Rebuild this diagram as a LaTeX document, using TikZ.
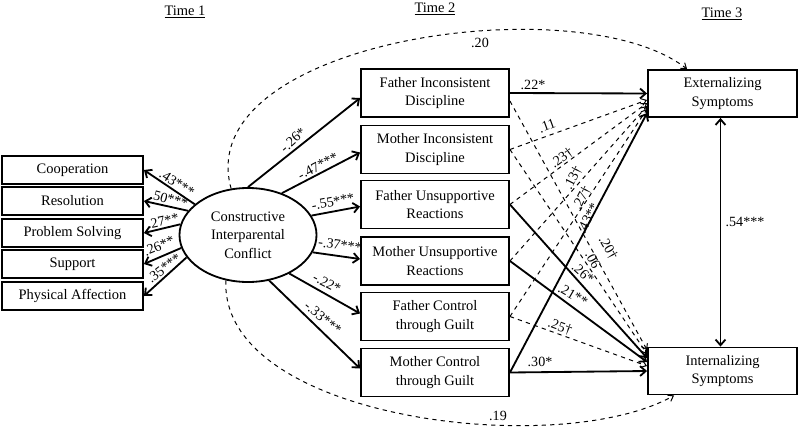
\documentclass[tikz,border=0pt]{standalone}
\usepackage{fontspec}
\setmainfont{Liberation Serif}
\usetikzlibrary{calc, shapes.geometric, arrows.meta}

\tikzset{
    box/.style={draw, line width=1.3pt, inner sep=0pt, align=center, font=\fontsize{10.3}{13}\selectfont},
    indbox/.style={box, minimum width=3.525cm, minimum height=0.7cm},
    midbox/.style={box, minimum width=3.7cm, minimum height=1.2cm},
    outbox/.style={box, minimum width=3.725cm, minimum height=1.175cm},
    solidarr/.style={line width=1.3pt, -{Straight Barb[length=4pt,width=7pt]}},
    dasharr/.style={line width=0.7pt, dashed, -{Straight Barb[length=3.5pt,width=5pt]}},
    lab/.style={font=\fontsize{10}{12}\selectfont, inner sep=1pt},
    timelab/.style={font=\fontsize{10.3}{12}\selectfont}
}

\begin{document}
\begin{tikzpicture}[x=0.025cm, y=-0.025cm]
        \useasboundingbox (0, 0) rectangle (800, 434);

        \node[timelab] (t1) at (185, 12) {\underline{Time 1}};
        \node[timelab] (t2) at (435, 9) {\underline{Time 2}};
        \node[timelab] (t3) at (722, 14) {\underline{Time 3}};

        % Time 1
        \node[indbox] (coop) at (72.5, 170) {Cooperation};
        \node[indbox] (res) at (72.5, 201) {Resolution};
        \node[indbox] (ps) at (72.5, 233) {Problem Solving};
        \node[indbox] (sup) at (72.5, 264) {Support};
        \node[indbox] (pa) at (72.5, 296) {Physical Affection};
        \node[draw, ellipse, line width=1.3pt, inner sep=0pt, minimum width=3.425cm, minimum height=2.35cm,
            align=center, font=\fontsize{10.3}{13}\selectfont] (ell) at (248, 235)
            {Constructive\\Interparental\\Conflict};

        % Time 2
        \node[midbox] (fid) at (435, 93) {Father Inconsistent\\Discipline};
        \node[midbox] (mid) at (435, 149.5) {Mother Inconsistent\\Discipline};
        \node[midbox] (fur) at (435, 204.5) {Father Unsupportive\\Reactions};
        \node[midbox] (mur) at (435, 261) {Mother Unsupportive\\Reactions};
        \node[midbox] (fcg) at (435, 316.5) {Father Control\\through Guilt};
        \node[midbox] (mcg) at (435, 372.5) {Mother Control\\through Guilt};

        % Time 3
        \node[outbox] (ext) at (722.5, 93.5) {Externalizing\\Symptoms};
        \node[outbox] (int) at (722.5, 371) {Internalizing\\Symptoms};

        \draw[solidarr] (ell.150) -- (coop.east);
        \draw[solidarr] (ell.158) -- (res.east);
        \draw[solidarr] (ell.171) -- (ps.east);
        \draw[solidarr] (ell.191) -- (sup.east);
        \draw[solidarr] (ell.200) -- (pa.east);
        \node[lab, rotate=-33] (lcoop) at (177, 183) {.43***};
        \node[lab, rotate=-15] (lres) at (169, 199) {.50***};
        \node[lab, rotate=12] (lps) at (163, 221) {.27**};
        \node[lab, rotate=22] (lsup) at (159, 246) {.26**};
        \node[lab, rotate=38] (lpa) at (164, 268) {.35***};

        \draw[solidarr] (ell.90) -- ($(fid.west)+(0, 5)$);
        \draw[solidarr] (ell.51) -- ($(mid.west)+(0, 3)$);
        \draw[solidarr] (ell.17) -- ($(fur.west)+(0, 2)$);
        \draw[solidarr] (ell.-15) -- ($(mur.west)+(0, -2)$);
        \draw[solidarr] (ell.-43) -- ($(fcg.west)+(0, -3)$);
        \draw[solidarr] (ell.-65) -- ($(mcg.west)+(0, -4)$);
        \node[lab, rotate=42] (lfid) at (293, 140) {-.26*};
        \node[lab, rotate=28] (lmid) at (318, 166) {-.47***};
        \node[lab, rotate=11] (lfur) at (333, 202) {-.55***};
        \node[lab, rotate=-8] (lmur) at (340, 245) {-.37***};
        \node[lab, rotate=-27] (lfcg) at (327, 283) {-.22*};
        \node[lab, rotate=-40] (lmcg) at (323, 318) {-.33***};

        % to externalizing
        \draw[solidarr] (fid.east) -- (ext.west);
        \draw[dasharr] (mid.east) -- ($(ext.west)+(0, 6.5)$);
        \draw[dasharr] (fur.east) -- ($(ext.west)+(0, 9.5)$);
        \draw[dasharr] (mur.east) -- ($(ext.west)+(0, 12.5)$);
        \draw[dasharr] (fcg.east) -- ($(ext.west)+(0, 15.5)$);
        \draw[solidarr] (mcg.east) -- ($(ext.west)+(0, 19.5)$);
        \node[lab] (efid) at (533, 85) {.22*};
        \node[lab, rotate=20] (emid) at (547, 126) {.11};
        \node[lab, rotate=36] (efur) at (562, 158) {.23†};
        \node[lab, rotate=63] (emur) at (573, 178) {.13†};
        \node[lab, rotate=63] (efcg) at (582, 198) {.27†};
        \node[lab, rotate=63] (emcg) at (588, 218) {.43**};

        % to internalizing
        \draw[dasharr] ($(fid.east)+(0, 8)$) -- ($(int.west)+(0, -21)$);
        \draw[dasharr] (mid.east) -- ($(int.west)+(0, -17)$);
        \draw[solidarr] (fur.east) -- ($(int.west)+(0, -13)$);
        \draw[solidarr] (mur.east) -- ($(int.west)+(0, -9)$);
        \draw[dasharr] (fcg.east) -- ($(int.west)+(0, -5)$);
        \draw[solidarr] (mcg.east) -- (int.west);
        \node[lab, rotate=-60] (ifid) at (608, 248) {.20†};
        \node[lab, rotate=-62] (imid) at (593, 260) {.06};
        \node[lab, rotate=-42] (ifur) at (583, 273) {.26*};
        \node[lab, rotate=-30] (imur) at (573, 295) {.21**};
        \node[lab, rotate=-20] (ifcg) at (560, 327) {.25†};
        \node[lab] (imcg) at (540, 362) {.30*};

        \draw[line width=1.3pt, {Straight Barb[length=4pt,width=7pt]}-{Straight Barb[length=4pt,width=7pt]}]
            ($(ext.south)+(-2, 0)$) -- ($(int.north)+(-2, 0)$);
        \node[lab] (lei) at (745, 222) {.54***};

        \draw[dasharr] (ell.110) .. controls (190, 40) and (580, -15) .. ($(ext.north west)+(40, 0)$);
        \node[lab] (top) at (480, 43) {.20};
        \draw[dasharr] (ell.244) .. controls (220, 420) and (560, 460) .. ($(int.south west)+(27, 0)$);
        \node[lab] (bot) at (498, 416) {.19};
\end{tikzpicture}
\end{document}
